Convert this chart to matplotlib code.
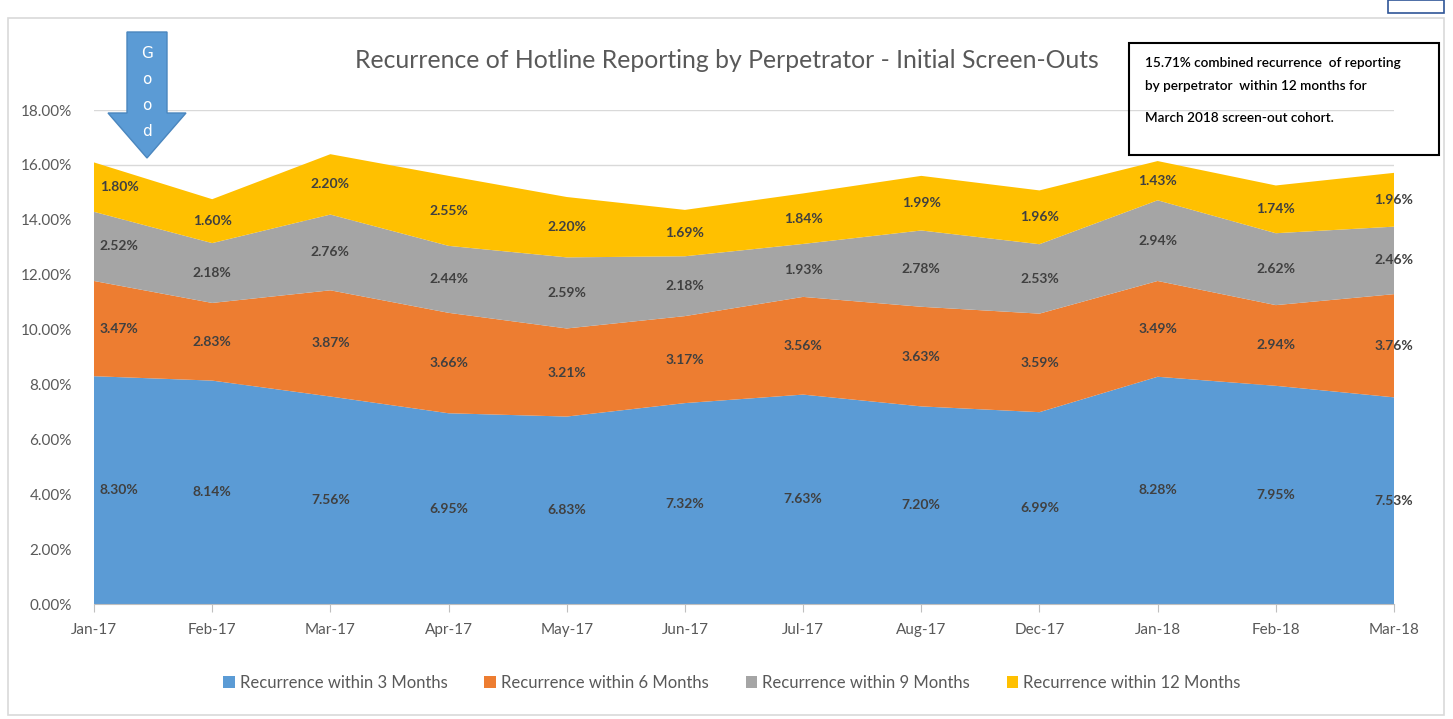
import matplotlib
matplotlib.use("Agg")
import matplotlib.pyplot as plt
from matplotlib.patches import Polygon, Rectangle, Patch

plt.rcParams["font.family"] = ["Lato", "DejaVu Sans"]

months = ["Jan-17", "Feb-17", "Mar-17", "Apr-17", "May-17", "Jun-17",
          "Jul-17", "Aug-17", "Dec-17", "Jan-18", "Feb-18", "Mar-18"]
within_3 = [8.30, 8.14, 7.56, 6.95, 6.83, 7.32, 7.63, 7.20, 6.99, 8.28, 7.95, 7.53]
within_6 = [3.47, 2.83, 3.87, 3.66, 3.21, 3.17, 3.56, 3.63, 3.59, 3.49, 2.94, 3.76]
within_9 = [2.52, 2.18, 2.76, 2.44, 2.59, 2.18, 1.93, 2.78, 2.53, 2.94, 2.62, 2.46]
within_12 = [1.80, 1.60, 2.20, 2.55, 2.20, 1.69, 1.84, 1.99, 1.96, 1.43, 1.74, 1.96]
series_names = ["Recurrence within 3 Months", "Recurrence within 6 Months",
                "Recurrence within 9 Months", "Recurrence within 12 Months"]
colors = ["#5B9BD5", "#ED7D31", "#A5A5A5", "#FFC000"]
yticks = [0, 2, 4, 6, 8, 10, 12, 14, 16, 18]

W, H = 1453, 719
fig = plt.figure(figsize=(W / 100, H / 100), dpi=100)


def px(x, y):
    # pixel coords (top-left origin) -> figure fraction
    return x / W, 1 - y / H


# outer chart border
fig.patches.append(Rectangle(px(8, 715), (1444 - 8) / W, (715 - 18) / H,
                             transform=fig.transFigure, fill=False,
                             edgecolor="#D9D9D9", linewidth=1.2))
fig.patches.append(Rectangle(px(1388, 13), (1444 - 1388) / W, 13 / H,
                             transform=fig.transFigure, fill=False,
                             edgecolor="#2F5597", linewidth=1.2))

ax = fig.add_axes([94 / W, 115 / H, (1394 - 94) / W, (604 - 110) / H])
x = list(range(len(months)))
series = [within_3, within_6, within_9, within_12]
ax.stackplot(x, *series, colors=colors, linewidth=0, zorder=2)

ax.set_xlim(0, len(months) - 1)
ax.set_ylim(0, 18)
ax.set_yticks(yticks)
ax.set_yticklabels([f"{v:.2f}%" for v in yticks], fontsize=11, color="#595959")
ax.set_xticks(x)
ax.set_xticklabels(months, fontsize=11, color="#595959")
ax.tick_params(axis="y", length=0, pad=16)
ax.tick_params(axis="x", length=6, color="#BFBFBF", pad=8)
ax.grid(axis="y", color="#D9D9D9", linewidth=1, zorder=0)
ax.set_axisbelow(True)
for s in ["top", "right", "left"]:
    ax.spines[s].set_visible(False)
ax.spines["bottom"].set_color("#BFBFBF")

# data labels in the middle of each band
base = [0.0] * len(months)
for vals in series:
    for i, v in enumerate(vals):
        mid = base[i] + v / 2
        if i == 0:
            ax.text(i + 0.05, mid, f"{v:.2f}%", ha="left", va="center",
                    fontsize=10, fontweight="bold", color="#404040", zorder=5)
        else:
            ax.text(i, mid, f"{v:.2f}%", ha="center", va="center",
                    fontsize=10, fontweight="bold", color="#404040", zorder=5)
        base[i] += v

fig.text(*px(727, 60), "Recurrence of Hotline Reporting by Perpetrator - Initial Screen-Outs",
         ha="center", va="center", fontsize=17.8, color="#595959")

# "Good" arrow
arrow_pts = [(127, 32), (167, 32), (167, 113), (186, 113), (147, 158),
             (108, 113), (127, 113)]
fig.patches.append(Polygon([px(a, b) for a, b in arrow_pts], closed=True,
                           transform=fig.transFigure, facecolor="#5B9BD5",
                           edgecolor="#4A86BE", linewidth=1))
for ch, yy in zip("Good", [54, 79, 105, 131]):
    fig.text(*px(147, yy), ch, ha="center", va="center", fontsize=11,
             color="white", family=["DejaVu Sans"])

# note box
fig.patches.append(Rectangle(px(1129, 155), (1439 - 1129) / W, (155 - 43) / H,
                             transform=fig.transFigure, fill=False,
                             edgecolor="black", linewidth=1.5, zorder=6))
note_lines = ["15.71% combined recurrence  of reporting",
              "by perpetrator  within 12 months for",
              "March 2018 screen-out cohort."]
for line, yy in zip(note_lines, [63, 86, 118]):
    fig.text(*px(1145, yy), line, ha="left", va="center", fontsize=9.8,
             fontweight="semibold", color="black", zorder=7)

handles = [Patch(facecolor=c, edgecolor="none") for c in colors]
fig.legend(handles, series_names, loc="center", bbox_to_anchor=px(732, 683),
           ncol=4, frameon=False, fontsize=12, handlelength=0.7,
           handleheight=0.7, handletextpad=0.3, columnspacing=2.2,
           labelcolor="#595959")

fig.savefig("out.png", dpi=100)
